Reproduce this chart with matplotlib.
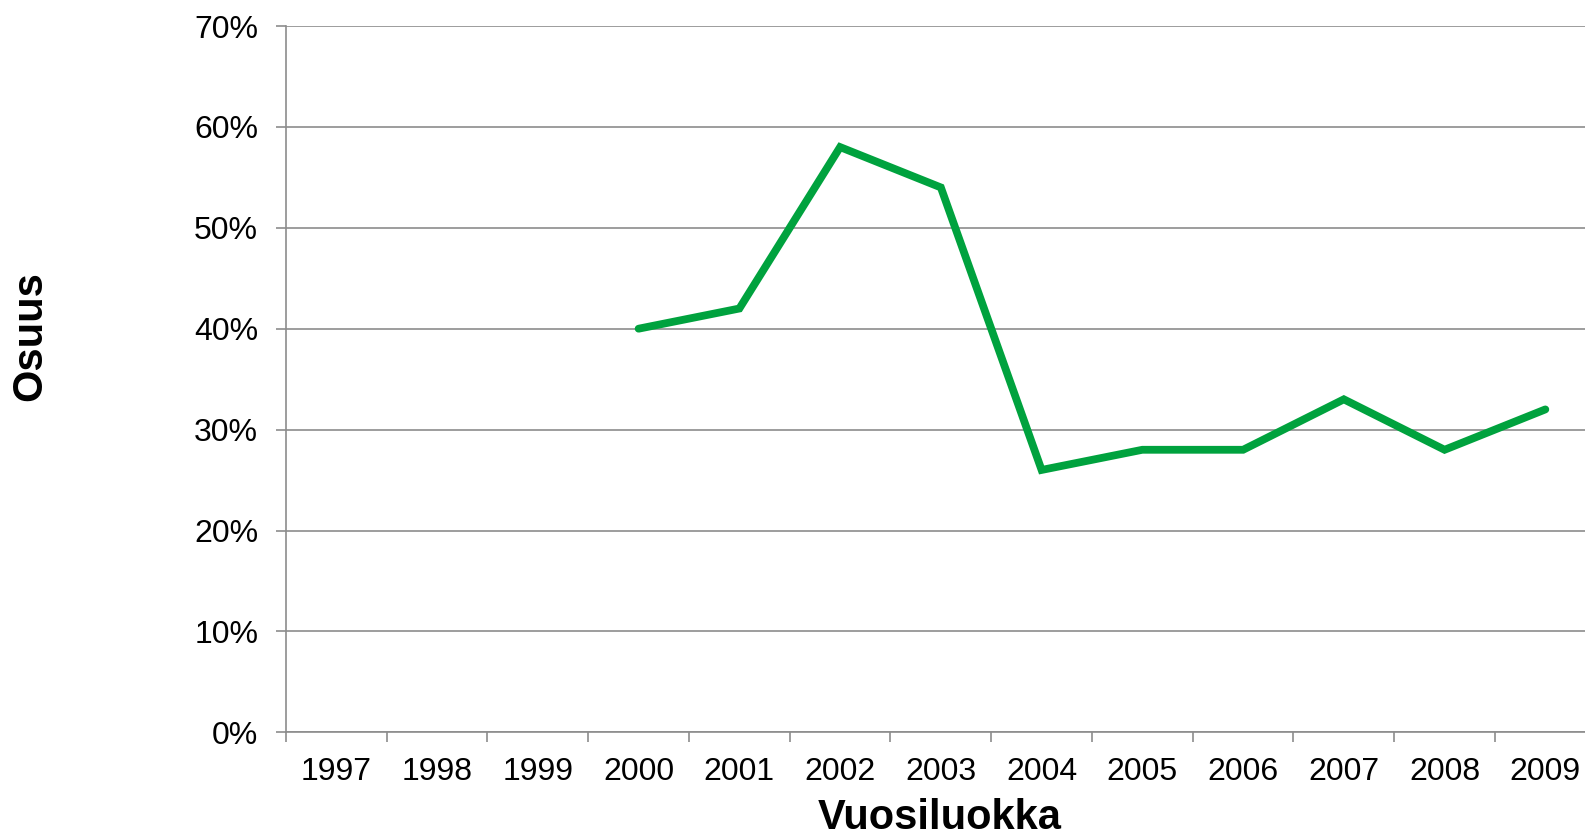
import numpy as np
import matplotlib
matplotlib.use('Agg')
import matplotlib.pyplot as plt
from matplotlib.ticker import FixedLocator, PercentFormatter

# Vuosiluokat ja osuudet (%)
vuodet = ['1997', '1998', '1999', '2000', '2001', '2002', '2003',
          '2004', '2005', '2006', '2007', '2008', '2009']
osuus = [np.nan, np.nan, np.nan, 40, 42, 58, 54, 26, 28, 28, 33, 28, 32]

plt.rcParams['font.family'] = ['Liberation Sans', 'DejaVu Sans']

fig = plt.figure(figsize=(15.85, 8.39), dpi=100)
ax = fig.add_axes([286 / 1585, 1 - 732.3 / 839, 1309.7 / 1585, 706.3 / 839])

x = np.arange(len(vuodet))
ax.plot(x, osuus, color='#00A23E', linewidth=5.6, solid_capstyle='round', solid_joinstyle='miter', zorder=3)

ax.set_xlim(-0.5, len(vuodet) - 0.5)
ax.set_ylim(0, 70)
ax.set_yticks(np.arange(0, 71, 10))
ax.yaxis.set_major_formatter(PercentFormatter(decimals=0))
ax.set_xticks(x)
ax.set_xticklabels(vuodet)
ax.xaxis.set_minor_locator(FixedLocator(np.arange(-0.5, len(vuodet), 1.0)))

harmaa = '#8C8C8C'
ax.grid(axis='y', color=harmaa, linewidth=1.2, zorder=1)
ax.tick_params(axis='x', which='major', length=0, pad=18, labelsize=23)
ax.tick_params(axis='x', which='minor', length=7, width=1.2, color=harmaa)
ax.tick_params(axis='y', length=7, width=1.2, color=harmaa, pad=13, labelsize=23)
for s in ['top', 'right']:
    ax.spines[s].set_visible(False)
for s in ['left', 'bottom']:
    ax.spines[s].set_color(harmaa)
    ax.spines[s].set_linewidth(1.2)

fig.text(940 / 1585, 1 - 818 / 839, 'Vuosiluokka', ha='center', va='center',
         fontsize=30, fontweight='bold')
fig.text(30 / 1585, 1 - 336 / 839, 'Osuus', ha='center', va='center',
         rotation=90, fontsize=30, fontweight='bold')

fig.savefig('out.png', dpi=100)
